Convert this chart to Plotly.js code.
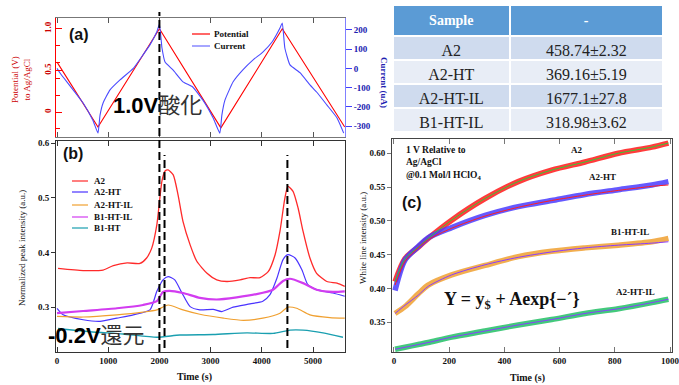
<!DOCTYPE html>
<html><head><meta charset="utf-8">
<script src="https://cdn.plot.ly/plotly-3.0.1.min.js"></script>
<style>html,body{margin:0;padding:0;background:#fff}#chart{width:679px;height:385px}</style>
</head><body><div id="chart"></div>
<script>
// ---------- Panel (a): cyclic potential & current ----------
const potTime = [0, 800, 2000, 3200, 4400, 5620];
const potValue = [0.6, -0.18, 1.0, -0.19, 1.0, -0.18];
const curTime = [0, 59, 510, 700, 800, 840, 900, 1035, 1230, 1490, 1680, 1815, 1950, 2000, 2050, 2110, 2265, 2460, 2650, 2850, 3050, 3180, 3220, 3280, 3440, 3630, 3830, 4020, 4200, 4355, 4400, 4450, 4550, 4750, 4940, 5070, 5270, 5470, 5600];
const curValue = [0, -24, -180, -270, -337, -243, -180, -112, -60, 0, 70, 122, 190, 230, 106, 33, -8, -70, -97, -165, -258, -337, -243, -165, -70, -8, 44, 85, 137, 210, 236, 106, 18, -24, -86, -123, -190, -258, -337];

// ---------- Panel (b): normalized peak intensity ----------
const bNames = ["A2", "A2-HT", "A2-HT-IL", "B1-HT-IL", "B1-HT"];
const bColors = ["#ff2a2a", "#4a33ff", "#f0a030", "#d23cf0", "#1a9fb0"];
const bTimeA2 = [20, 510, 900, 1100, 1370, 1620, 1750, 1850, 1950, 2050, 2110, 2170, 2270, 2365, 2460, 2600, 2730, 2930, 3120, 3320, 3575, 3770, 3965, 4125, 4260, 4355, 4450, 4510, 4610, 4710, 4805, 4940, 5070, 5270, 5470, 5620];
const bA2 = [0.371, 0.367, 0.368, 0.376, 0.381, 0.380, 0.390, 0.408, 0.451, 0.531, 0.549, 0.551, 0.542, 0.505, 0.457, 0.414, 0.384, 0.362, 0.350, 0.347, 0.350, 0.354, 0.354, 0.365, 0.396, 0.439, 0.499, 0.521, 0.512, 0.481, 0.439, 0.390, 0.362, 0.347, 0.344, 0.338];
const bTimeA2HT = [0, 120, 510, 840, 1170, 1490, 1815, 1950, 2070, 2170, 2300, 2440, 2600, 2790, 3050, 3220, 3440, 3770, 4020, 4160, 4295, 4415, 4510, 4650, 4785, 4900, 5070, 5390, 5620];
const bA2HT = [0.298, 0.286, 0.277, 0.274, 0.280, 0.286, 0.295, 0.329, 0.350, 0.356, 0.350, 0.326, 0.301, 0.295, 0.296, 0.292, 0.300, 0.306, 0.311, 0.323, 0.353, 0.387, 0.396, 0.390, 0.368, 0.341, 0.332, 0.326, 0.320];
const bTimeA2HTIL = [0, 510, 1170, 1680, 1950, 2170, 2460, 2790, 3250, 3640, 4020, 4355, 4510, 4680, 4940, 5330, 5620];
const bA2HTIL = [0.283, 0.282, 0.286, 0.291, 0.295, 0.304, 0.295, 0.287, 0.280, 0.276, 0.280, 0.289, 0.300, 0.298, 0.286, 0.281, 0.280];
const bTimeB1HTIL = [0, 510, 1170, 1680, 1950, 2070, 2200, 2460, 2790, 3120, 3510, 3900, 4220, 4415, 4550, 4805, 5070, 5390, 5620];
const bB1HTIL = [0.289, 0.293, 0.298, 0.304, 0.311, 0.328, 0.330, 0.326, 0.317, 0.314, 0.318, 0.324, 0.332, 0.348, 0.352, 0.344, 0.332, 0.328, 0.329];
const bTimeB1HT = [20, 645, 1290, 1950, 2400, 3050, 3710, 4220, 4550, 4805, 5195, 5585];
const bB1HT = [0.261, 0.255, 0.251, 0.245, 0.249, 0.250, 0.253, 0.252, 0.258, 0.258, 0.253, 0.245];
const markerTimes = [2000, 2100, 4500];

// ---------- Panel (c): white line intensity ----------
const cNames = ["A2", "A2-HT", "B1-HT-IL", "A2-HT-IL"];
const cPointColors = ["#ff1a1a", "#4a3cff", "#f0a030", "#22c065"];
const cFitColors = ["#33cc33", "#ff2020", "#8a3cff", "#8a3cff"];
const cTime = [4, 40, 88, 124, 209, 330, 450, 571, 692, 813, 934, 994];
const cA2 = [0.410, 0.444, 0.461, 0.474, 0.501, 0.533, 0.558, 0.575, 0.587, 0.600, 0.609, 0.615];
const cA2HT = [0.397, 0.442, 0.462, 0.475, 0.490, 0.508, 0.521, 0.530, 0.539, 0.546, 0.553, 0.558];
const cA2HTfit = [0.405, 0.440, 0.460, 0.472, 0.489, 0.507, 0.520, 0.530, 0.538, 0.545, 0.551, 0.553];
const cB1HTIL = [0.363, 0.373, 0.392, 0.405, 0.420, 0.434, 0.447, 0.455, 0.460, 0.464, 0.469, 0.474];
const cB1HTILfit = [0.363, 0.375, 0.390, 0.403, 0.420, 0.435, 0.446, 0.454, 0.460, 0.464, 0.467, 0.469];
const cA2HTIL = [0.310, 0.313, 0.317, 0.320, 0.328, 0.337, 0.346, 0.354, 0.363, 0.370, 0.379, 0.384];

// ---------- Table ----------
const tableHeader = ["Sample", "-"];
const tableSamples = ["A2", "A2-HT", "A2-HT-IL", "B1-HT-IL"];
const tableValues = ["458.74±2.32", "369.16±5.19", "1677.1±27.8", "318.98±3.62"];

// ---------- helpers ----------
const W = 679, H = 385;
const PX = x => x / W, PY = y => 1 - y / H;
const SERIF = "Liberation Serif, Times New Roman, serif";
const SANS = "Liberation Sans, Arial, sans-serif";

const traces = [];
traces.push({x: potTime, y: potValue, xaxis: 'x', yaxis: 'y', mode: 'lines', line: {color: '#ff0000', width: 1.1}, showlegend: false, name: 'Potential'});
traces.push({x: curTime, y: curValue, xaxis: 'x', yaxis: 'y2', mode: 'lines', line: {color: '#4a4aff', width: 1.1, shape: 'spline', smoothing: 0.4}, showlegend: false, name: 'Current'});

const bT = [bTimeA2, bTimeA2HT, bTimeA2HTIL, bTimeB1HTIL, bTimeB1HT];
const bY = [bA2, bA2HT, bA2HTIL, bB1HTIL, bB1HT];
const bW = [1.3, 1.2, 1.2, 2.2, 1.4];
for (let i = 0; i < bNames.length; i++) {
  traces.push({x: bT[i], y: bY[i], xaxis: 'x2', yaxis: 'y3', mode: 'lines', name: bNames[i], showlegend: false,
    line: {color: bColors[i], width: bW[i], shape: 'spline', smoothing: 0.6}});
}

const cPts = [cA2, cA2HT, cB1HTIL, cA2HTIL];
const cFit = [cA2, cA2HTfit, cB1HTILfit, cA2HTIL];
for (let i = 0; i < cNames.length; i++) {
  traces.push({x: cTime, y: cPts[i], xaxis: 'x3', yaxis: 'y4', mode: 'lines', name: cNames[i], showlegend: false,
    opacity: 0.85, line: {color: cPointColors[i], width: 5.5, shape: 'spline', smoothing: 0.8}});
}
for (let i = 0; i < cNames.length; i++) {
  traces.push({x: cTime, y: cFit[i], xaxis: 'x3', yaxis: 'y4', mode: 'lines', name: cNames[i] + ' fit', showlegend: false,
    line: {color: cFitColors[i], width: 1.0, shape: 'spline', smoothing: 0.8}});
}

const rowFill = ['#cfdbee', '#e8edf6', '#cfdbee', '#e8edf6'];
traces.push({
  type: 'table',
  domain: {x: [PX(393), PX(664)], y: [PY(134), PY(5)]},
  columnwidth: [117, 154],
  header: {values: tableHeader.map(h => '<b>' + h + '</b>'), fill: {color: '#5b9bd5'}, line: {color: '#ffffff', width: 2},
    align: 'center', height: 22, font: {family: SERIF, size: 14, color: '#ffffff'}},
  cells: {values: [tableSamples, tableValues], fill: {color: [rowFill, rowFill]}, line: {color: '#ffffff', width: 2},
    align: 'center', height: 24, font: {family: SERIF, size: 16, color: '#222222'}}
});

const tickFont = (c) => ({family: SERIF, size: 9, color: c || '#111', weight: 'bold'});
const xDomL = [PX(56), PX(345)];

const layout = {
  width: W, height: H, margin: {l: 0, r: 0, t: 0, b: 0},
  paper_bgcolor: '#ffffff', plot_bgcolor: 'rgba(0,0,0,0)', showlegend: false,
  xaxis: {domain: xDomL, anchor: 'y', range: [-20, 5625], tickvals: [0, 1000, 2000, 3000, 4000, 5000], showticklabels: false,
    ticks: 'inside', ticklen: 5, tickcolor: '#555', mirror: 'ticks', showline: true, linecolor: '#777', showgrid: false, zeroline: false},
  yaxis: {domain: [PY(137), PY(18)], anchor: 'x', range: [-0.30, 1.13], tickvals: [0, 0.5, 1.0], ticktext: ['0', '0.5', '1.0'],
    tickangle: -90, ticks: 'inside', ticklen: 6, tickcolor: '#ff0000', showline: true, linecolor: '#ff0000', linewidth: 1.2,
    tickfont: tickFont('#cc0000'), showgrid: false, zeroline: false,
    minor: {tick0: 0, dtick: 0.2, ticks: 'inside', ticklen: 4, tickcolor: '#ff0000'}},
  yaxis2: {overlaying: 'y', side: 'right', anchor: 'x', range: [-357, 262], tickvals: [-300, -200, -100, 0, 100, 200],
    ticktext: ['-300', '-200', '-100', '0', '100', '200'],
    ticks: 'outside', ticklen: 6, tickcolor: '#4040ff', showline: true, linecolor: '#8080ff', tickfont: tickFont('#2020b0'),
    showgrid: false, zeroline: false},
  xaxis2: {domain: xDomL, anchor: 'y3', range: [-20, 5625], tickvals: [0, 1000, 2000, 3000, 4000, 5000],
    ticks: 'inside', ticklen: 5, mirror: 'ticks', showline: true, linecolor: '#333', tickcolor: '#333', tickfont: tickFont(),
    showgrid: false, zeroline: false},
  yaxis3: {domain: [PY(352), PY(141)], anchor: 'x2', range: [0.218, 0.604], tickvals: [0.3, 0.4, 0.5, 0.6], tickformat: '.1f',
    ticks: 'outside', ticklen: 4, mirror: true, showline: true, linecolor: '#333', tickcolor: '#333', tickfont: tickFont(),
    showgrid: false, zeroline: false},
  xaxis3: {domain: [PX(392), PX(672)], anchor: 'y4', range: [-7, 1007], tickvals: [0, 200, 400, 600, 800, 1000],
    ticklabeloverflow: 'allow',
    ticks: 'inside', ticklen: 5, mirror: 'ticks', showline: true, linecolor: '#444', tickcolor: '#777', tickfont: tickFont(),
    showgrid: false, zeroline: false},
  yaxis4: {domain: [PY(352), PY(139)], anchor: 'x3', range: [0.306, 0.621], tickvals: [0.35, 0.40, 0.45, 0.50, 0.55, 0.60], tickformat: '.2f',
    ticks: 'outside', ticklen: 4, mirror: true, showline: true, linecolor: '#444', tickcolor: '#777', tickfont: tickFont(),
    showgrid: false, zeroline: false},
  shapes: [], annotations: []
};

// dashed marker lines
layout.shapes.push({type: 'line', xref: 'x2', yref: 'paper', x0: markerTimes[0], x1: markerTimes[0], y0: PY(352), y1: PY(12),
  line: {color: '#000', width: 2, dash: '8px,4px'}});
for (let i = 1; i < markerTimes.length; i++) {
  layout.shapes.push({type: 'line', xref: 'x2', yref: 'paper', x0: markerTimes[i], x1: markerTimes[i], y0: PY(348), y1: PY(155),
    line: {color: '#000', width: 2, dash: '8px,4px'}});
}

// legends (drawn manually for tight spacing)
const legA = [['Potential', '#ff0000', 34], ['Current', '#6a6aff', 46]];
legA.forEach(([t, c, y]) => {
  layout.shapes.push({type: 'line', xref: 'paper', yref: 'paper', x0: PX(192), x1: PX(210), y0: PY(y), y1: PY(y), line: {color: c, width: 1.2}});
  layout.annotations.push({xref: 'paper', yref: 'paper', x: PX(212), y: PY(y), xanchor: 'left', yanchor: 'middle', showarrow: false,
    text: t, font: {family: SERIF, size: 9, color: '#111', weight: 'bold'}});
});
const legBy = [181, 192, 205, 217, 228];
bNames.forEach((n, i) => {
  layout.shapes.push({type: 'line', xref: 'paper', yref: 'paper', x0: PX(72), x1: PX(88), y0: PY(legBy[i]), y1: PY(legBy[i]), line: {color: bColors[i], width: 1.2}});
  layout.annotations.push({xref: 'paper', yref: 'paper', x: PX(92), y: PY(legBy[i]), xanchor: 'left', yanchor: 'middle', showarrow: false,
    text: n, font: {family: SERIF, size: 9, color: '#111', weight: 'bold'}});
});

function ann(x, y, text, font, extra) {
  layout.annotations.push(Object.assign({xref: 'paper', yref: 'paper', x: PX(x), y: PY(y), showarrow: false, text: text, font: font,
    xanchor: 'center', yanchor: 'middle'}, extra || {}));
}
const panelFont = {family: SANS, size: 16, color: '#111', weight: 'bold'};
ann(79, 34, '(a)', panelFont);
ann(73, 153, '(b)', panelFont);
ann(412, 203, '(c)', panelFont);
ann(111, 106, '<b>1.0V</b><span style="color:#333">酸化</span>', {family: 'Liberation Sans, Noto Sans CJK JP', size: 22, color: '#000'}, {xanchor: 'left'});
ann(46, 335, '<b>-0.2V</b><span style="color:#333">還元</span>', {family: 'Liberation Sans, Noto Sans CJK JP', size: 22, color: '#000'}, {xanchor: 'left'});

// axis titles
ann(21, 80, 'Potential (V)<br>to Ag/AgCl', {family: SERIF, size: 9, color: '#cc0000'}, {textangle: -90});
ann(384, 82, 'Current (uA)', {family: SERIF, size: 9, color: '#2020b0', weight: 'bold'}, {textangle: 90});
ann(22, 248, 'Normalized peak intensity (a.u.)', {family: SERIF, size: 9, color: '#111'}, {textangle: -90});
ann(194, 377, 'Time (s)', {family: SERIF, size: 10, color: '#111', weight: 'bold'});
ann(363, 238, 'White line intensity (a.u.)', {family: SERIF, size: 9, color: '#111'}, {textangle: -90});
ann(527, 378, 'Time (s)', {family: SERIF, size: 10, color: '#111', weight: 'bold'});

// panel (c) labels
const cLabelPos = [[577, 150], [602, 177], [630, 232], [635, 292]];
cNames.forEach((n, i) => ann(cLabelPos[i][0], cLabelPos[i][1], n, {family: SERIF, size: 9, color: '#111', weight: 'bold'}));
ann(404, 163, '1 V Relative to<br>Ag/AgCl<br>@0.1 Mol/l HClO<sub>4</sub>', {family: SERIF, size: 9.5, color: '#111', weight: 'bold'}, {xanchor: 'left', align: 'left'});
ann(512, 300, 'Y = y<sub>$</sub> + Aexp{−´}', {family: SERIF, size: 18, color: '#111', weight: 'bold'});

Plotly.newPlot('chart', traces, layout, {staticPlot: true, displayModeBar: false});
</script></body></html>
